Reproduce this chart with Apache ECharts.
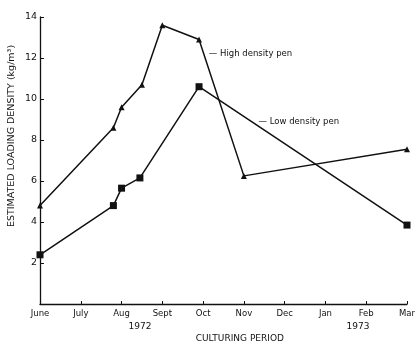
<!DOCTYPE html>
<html>
<head>
<meta charset="utf-8">
<script src="https://cdn.jsdelivr.net/npm/echarts@6/dist/echarts.min.js"></script>
<style>
  html, body { margin: 0; padding: 0; background: #fff; }
  #chart { width: 415px; height: 345px; }
</style>
</head>
<body>
<div id="chart"></div>
<script>
// months from June 1972 (0) to March 1973 (9)
const monthLabels = ['June', 'July', 'Aug', 'Sept', 'Oct', 'Nov', 'Dec', 'Jan', 'Feb', 'Mar']

// [month offset, kg/m3]
const highDensity = [
  [0, 4.8], [1.8, 8.6], [2.0, 9.6], [2.5, 10.7],
  [3.0, 13.6], [3.9, 12.9], [5.0, 6.25], [9.0, 7.55]
]
const lowDensity = [
  [0, 2.4], [1.8, 4.8], [2.0, 5.65], [2.45, 6.15],
  [3.9, 10.6], [9.0, 3.85]
]

const FONT = 'DejaVu Sans'
const chart = echarts.init(document.getElementById('chart'))

chart.setOption({
  animation: false,
  backgroundColor: '#fff',
  grid: { left: 40, right: 8, top: 17, bottom: 41, containLabel: false, outerBoundsMode: 'none' },
  xAxis: {
    type: 'value',
    min: 0,
    max: 9,
    interval: 1,
    splitLine: { show: false },
    axisLine: { lineStyle: { color: '#111', width: 1.3 } },
    axisTick: { inside: true, length: 3, lineStyle: { color: '#111' } },
    axisLabel: {
      color: '#111',
      fontFamily: FONT,
      fontSize: 8.5,
      margin: 5,
      formatter: function(v) { return monthLabels[Math.round(v)] || '' }
    }
  },
  yAxis: {
    type: 'value',
    min: 0,
    max: 14,
    interval: 2,
    splitLine: { show: false },
    axisLine: { show: true, lineStyle: { color: '#111', width: 1.3 } },
    axisTick: { show: true, inside: true, length: 4, lineStyle: { color: '#111' } },
    axisLabel: {
      color: '#111',
      fontFamily: FONT,
      fontSize: 9.5,
      margin: 3,
      showMinLabel: false,
      formatter: function(v) { return v === 0 ? '' : String(v) }
    }
  },
  series: [
    {
      name: 'High density pen',
      type: 'line',
      data: highDensity,
      symbol: 'triangle',
      symbolSize: 6,
      lineStyle: { color: '#111', width: 1.5 },
      itemStyle: { color: '#111' }
    },
    {
      name: 'Low density pen',
      type: 'line',
      data: lowDensity,
      symbol: 'rect',
      symbolSize: 7,
      lineStyle: { color: '#111', width: 1.5 },
      itemStyle: { color: '#111' }
    }
  ]
})

// annotation texts placed through the chart's own coordinate system
const hi = chart.convertToPixel({ gridIndex: 0 }, [4.14, 12.2])
const lo = chart.convertToPixel({ gridIndex: 0 }, [5.36, 8.88])
const y72 = chart.convertToPixel({ gridIndex: 0 }, [2.45, 0])
const y73 = chart.convertToPixel({ gridIndex: 0 }, [7.8, 0])
const xName = chart.convertToPixel({ gridIndex: 0 }, [4.9, 0])

const textStyle = { fill: '#111', fontFamily: FONT, fontSize: 8.5 }

chart.setOption({
  graphic: [
    {
      type: 'text', x: hi[0], y: hi[1],
      style: Object.assign({ text: '— High density pen', textVerticalAlign: 'middle' }, textStyle)
    },
    {
      type: 'text', x: lo[0], y: lo[1],
      style: Object.assign({ text: '— Low density pen', textVerticalAlign: 'middle' }, textStyle)
    },
    {
      type: 'text', x: y72[0], y: y72[1] + 23,
      style: Object.assign({ text: '1972', textAlign: 'center', textVerticalAlign: 'middle' }, textStyle, { fontSize: 9 })
    },
    {
      type: 'text', x: y73[0], y: y73[1] + 23,
      style: Object.assign({ text: '1973', textAlign: 'center', textVerticalAlign: 'middle' }, textStyle, { fontSize: 9 })
    },
    {
      type: 'text', x: xName[0], y: xName[1] + 35,
      style: Object.assign({ text: 'CULTURING PERIOD', textAlign: 'center', textVerticalAlign: 'middle' }, textStyle, { fontSize: 9 })
    },
    {
      type: 'text', x: 12, y: 136, rotation: Math.PI / 2,
      style: Object.assign({ text: 'ESTIMATED LOADING DENSITY (kg/m³)', textAlign: 'center', textVerticalAlign: 'middle' }, textStyle, { fontSize: 9.5 })
    }
  ]
})
</script>
</body>
</html>
